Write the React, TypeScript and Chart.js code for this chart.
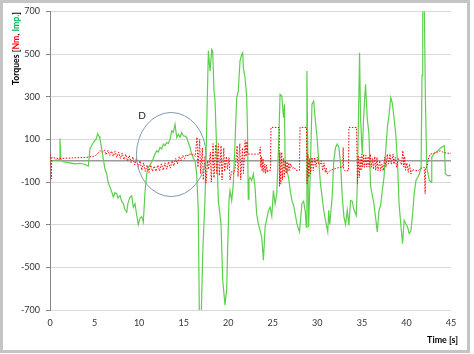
import React, { useEffect, useRef } from 'react';
import { Chart, registerables } from 'chart.js';

Chart.register(...registerables);

// ---- data (time in s, torque values) ----
const greenT = [
  0.05, 0.56, 1.07, 1.12, 1.23, 1.46, 2.24, 2.81, 3.37, 3.93, 4.30, 4.38, 4.49, 4.86, 5.16, 5.35, 5.50, 5.61, 5.78, 5.98,
  6.17, 6.36, 6.51, 6.73, 6.96, 7.10, 7.29, 7.49, 7.63, 7.86, 8.03, 8.23, 8.42, 8.61, 8.75, 8.98, 9.17, 9.35, 9.54, 9.71,
  9.91, 10.10, 10.29, 10.47, 10.66, 10.85, 11.03, 11.22, 11.41, 11.59, 11.78, 11.97, 12.15, 12.34, 12.53, 12.72, 12.90, 13.09, 13.28, 13.47,
  13.66, 13.84, 14.03, 14.22, 14.41, 14.59, 14.78, 14.96, 15.15, 15.34, 15.52, 15.71, 15.90, 16.10, 16.27, 16.46, 16.64, 16.76, 16.98, 17.15,
  17.39, 17.58, 17.77, 17.96, 18.15, 18.26, 18.40, 18.52, 18.71, 18.89, 19.19, 19.38, 19.64, 19.83, 19.94, 20.09, 20.20, 20.39, 20.57, 20.76,
  20.95, 21.13, 21.32, 21.51, 21.63, 21.70, 21.89, 22.07, 22.16, 22.25, 22.33, 22.44, 22.63, 22.82, 23.01, 23.19, 23.38, 23.76, 23.95, 24.14,
  24.52, 24.70, 24.89, 25.07, 25.26, 25.45, 25.63, 25.82, 26.01, 26.20, 26.31, 26.39, 26.58, 26.77, 26.96, 27.15, 27.34, 27.52, 27.71, 28.00,
  28.27, 28.46, 28.65, 28.76, 28.83, 29.02, 29.21, 29.40, 29.59, 29.78, 29.97, 30.16, 30.35, 30.54, 30.72, 30.91, 31.17, 31.28, 31.39, 31.66,
  31.85, 32.04, 32.23, 32.42, 32.61, 32.80, 32.99, 33.17, 33.36, 33.54, 33.73, 33.92, 34.10, 34.37, 34.48, 34.66, 34.74, 34.85, 35.04, 35.19,
  35.41, 35.60, 35.79, 35.98, 36.35, 36.73, 36.92, 37.10, 37.29, 37.48, 37.67, 37.86, 38.05, 38.24, 38.41, 38.61, 38.80, 38.99, 39.17, 39.37,
  39.56, 39.74, 39.93, 40.12, 40.31, 40.50, 40.69, 40.87, 41.07, 41.26, 41.45, 41.64, 41.75, 41.83, 42.01, 42.13, 42.28, 42.57, 42.76, 42.84,
  43.06, 43.51, 43.89, 44.26, 44.37, 44.64, 45.00,
];
const greenV = [
  0, 2, 5, 104, 3, -5, -10, -15, -12, -18, -25, 10, 56, 85, 100, 126, 115, 103, 60, 9,
  -40, -61, -100, -124, -150, -171, -150, -155, -175, -163, -190, -201, -230, -241, -200, -171, -165, -218, -202, -250,
  -300, -270, -262, -288, -150, -62, -31, -20, -8, 10, 31, 47, 40, 62, 55, 78, 70, 85, 80, 101,
  140, 132, 171, 109, 124, 110, 132, 117, 115, 109, 85, 62, 31, 10, 0, -62, -233, -720, -720, -420,
  -187, 150, 515, 420, 521, 513, 330, 280, 47, -187, -296, -560, -677, -600, -404, -187, -140, -187, -109, 78,
  295, 327, 467, 498, 506, 435, 389, 300, 150, -180, -90, -78, -93, -62, -124, -249, -296, -358, -467, -311,
  -233, -218, -260, -140, -203, -155, 47, 311, 303, 202, 265, -31, -46, -78, -140, -187, -210, -249, -296, -334,
  -200, -190, -240, -311, 420, -311, -50, 265, 280, 187, 109, 0, -109, -171, -233, -280, -334, -233, -300, -171,
  0, 62, 78, 62, -16, -171, -265, -300, -233, -303, -187, -190, -230, -257, -124, 300, 506, 200, 30, 200,
  358, 200, 125, -120, -202, -334, -233, -210, -140, -78, 47, 156, 218, 296, 270, 200, 125, 0, -200, -300,
  -389, -280, -296, -310, -342, -330, -250, -155, -93, -78, -62, -31, 400, 720, 720, 280, -31, -93, -101, 16,
  31, 47, 62, 70, -62, -70, -70,
];

const redT = [
  0, 0.1, 0.15, 0.2, 1.0, 2.0, 3.0, 4.0, 4.5, 5.0, 5.3, 5.6, 5.9, 6.1, 6.3, 6.5, 6.7, 6.9, 7.1, 7.3,
  7.5, 7.7, 7.9, 8.1, 8.3, 8.5, 8.7, 8.9, 9.1, 9.3, 9.5, 9.7, 9.9, 10.1, 10.3, 10.5, 10.7, 10.9, 11.1, 11.3,
  11.5, 11.7, 11.9, 12.1, 12.3, 12.5, 12.7, 12.9, 13.1, 13.3, 13.5, 13.7, 13.9, 14.1, 14.3, 14.5, 14.7, 14.9, 15.1, 15.3,
  15.5, 15.7, 15.9, 16.1, 16.3, 16.5, 16.6, 16.8, 16.9, 17.1, 17.2, 17.4, 17.5, 17.7, 17.8, 18.0, 18.1, 18.3, 18.4, 18.6,
  18.7, 18.9, 19.0, 19.2, 19.3, 19.5, 19.6, 19.8, 19.9, 20.1, 20.2, 20.4, 20.6, 20.8, 21.0, 21.1, 21.3, 21.4, 21.6, 21.7,
  21.9, 22.0, 22.1, 22.2, 22.5, 23.0, 23.3, 23.5, 23.6, 23.65, 23.75, 23.8, 23.9, 24.0, 24.1, 24.2, 24.3, 24.4, 24.5, 24.75,
  24.8, 25.73, 25.75, 25.8, 25.9, 26.0, 26.1, 26.2, 26.3, 26.4, 26.5, 26.6, 26.7, 26.8, 26.9, 27.0, 27.2, 27.4, 27.6, 27.8,
  28.0, 28.05, 28.8, 28.85, 28.95, 29.05, 29.15, 29.25, 29.4, 29.55, 29.7, 29.85, 30.0, 30.15, 30.3, 30.45, 30.6, 30.75, 30.9, 31.0,
  31.1, 31.4, 31.8, 32.2, 32.5, 32.85, 32.9, 32.95, 33.1, 33.5, 33.55, 34.4, 34.5, 34.6, 34.7, 34.8, 34.9, 35.0, 35.1, 35.2,
  35.3, 35.45, 35.55, 35.7, 35.8, 35.95, 36.05, 36.2, 36.3, 36.45, 36.55, 36.7, 36.8, 37.0, 37.1, 37.25, 37.4, 37.55, 37.7, 37.85,
  38.0, 38.15, 38.3, 38.5, 38.6, 38.75, 38.9, 39.1, 39.3, 39.45, 39.6, 39.7, 39.8, 39.9, 40.05, 40.2, 40.35, 40.5, 40.7, 40.9,
  41.3, 41.7, 42.0, 42.1, 42.15, 42.3, 42.5, 42.7, 43.1, 43.4, 43.8, 44.1, 44.5, 45.0,
];
const redV = [
  30, 20, -85, 15, 10, 12, 14, 15, 18, 22, 30, 47, 40, 50, 28, 48, 25, 45, 20, 44,
  16, 40, 10, 36, 5, 30, -2, 25, -10, 18, -20, 10, -30, 0, -45, -10, -50, -20, -55, -20,
  -50, -25, -50, -20, -48, -15, -45, -10, -40, -5, -35, 0, -25, 10, -15, 20, 0, 25, 10, 30,
  20, 35, 25, 30, 20, 110, -30, 100, -60, 60, -90, 20, -105, 0, -40, 40, -100, 80, -80, 75,
  -60, 80, -70, 70, -90, 60, -50, 20, -40, 15, -90, -50, -60, -30, 70, -75, 80, -90, 60, -60,
  95, 20, 90, 31, 31, 31, 31, 30, 65, -30, 20, -50, 10, -55, -15, -60, -20, -55, -45, -45,
  156, 156, -120, 40, -110, 40, -90, 10, -75, 0, -60, -5, -50, -10, -45, -15, -35, -30, -45, -45,
  -45, 156, 156, -107, 30, -78, 10, -62, 16, -47, 16, -30, 16, -16, -16, 0, -47, -10, -55, -35,
  -62, -47, -40, -35, -31, -31, 62, -40, -47, -47, 156, 156, -107, 20, -80, 16, -47, 30, -30, 31,
  -31, 25, -30, 20, -30, 31, -31, 10, -40, 20, -45, 16, -47, 0, -47, -16, -47, 16, -31, 31,
  -16, 31, -16, 31, -16, 16, -31, 10, 0, -20, 47, -30, 20, -45, -10, -55, -16, -62, -40, -47,
  -47, -35, -31, -155, -31, -31, 16, 31, 35, 39, 47, 40, 35, 35,
];

const xTicks = [0, 5, 10, 15, 20, 25, 30, 35, 40, 45];
const yTicks = [-700, -500, -300, -100, 100, 300, 500, 700];
const yMin = -700;
const yMax = 700;
const xMin = 0;
const xMax = 45;

const yTitleParts = [
  { text: 'Torques [', color: '#000000' },
  { text: 'Nm', color: '#ff0000' },
  { text: ', ', color: '#000000' },
  { text: 'Imp.', color: '#00b050' },
  { text: ']', color: '#000000' },
];
const xTitle = 'Time [s]';

// annotation ellipse "D" (data coordinates)
const annoLabel = 'D';
const annoCenterT = 13.6;
const annoCenterV = 29;
const annoRadiusT = 3.9;
const annoRadiusV = 197;
const annoLabelT = 10.33;
const annoLabelV = 210;

const FONT = 'Lato, "Open Sans", sans-serif';

const decorPlugin = {
  id: 'decor',
  beforeDatasetsDraw(chart: any) {
    const { ctx, chartArea, scales } = chart;
    const y0 = scales.y.getPixelForValue(0);
    ctx.save();
    ctx.strokeStyle = '#9a9a9a';
    ctx.lineWidth = 1.6;
    ctx.beginPath();
    ctx.moveTo(chartArea.left, y0);
    ctx.lineTo(chartArea.right, y0);
    ctx.stroke();
    ctx.restore();
  },
  afterDraw(chart: any) {
    const { ctx, scales } = chart;
    const xs = scales.x;
    const ys = scales.y;
    ctx.save();
    // ellipse annotation
    const cx = xs.getPixelForValue(annoCenterT);
    const cy = ys.getPixelForValue(annoCenterV);
    const rx = Math.abs(xs.getPixelForValue(annoCenterT + annoRadiusT) - cx);
    const ry = Math.abs(ys.getPixelForValue(annoCenterV + annoRadiusV) - cy);
    ctx.strokeStyle = '#8098b4';
    ctx.lineWidth = 1;
    ctx.beginPath();
    ctx.ellipse(cx, cy, rx, ry, 0, 0, Math.PI * 2);
    ctx.stroke();
    ctx.fillStyle = '#222';
    ctx.font = `10px ${FONT}`;
    ctx.textAlign = 'center';
    ctx.textBaseline = 'middle';
    ctx.fillText(annoLabel, xs.getPixelForValue(annoLabelT), ys.getPixelForValue(annoLabelV));

    // y title (multi-coloured)
    let size = 10;
    ctx.font = `bold ${size}px ${FONT}`;
    let total = yTitleParts.reduce((s, p) => s + ctx.measureText(p.text).width, 0);
    size = size * 73 / total;
    ctx.font = `bold ${size}px ${FONT}`;
    ctx.translate(16, 85);
    ctx.rotate(-Math.PI / 2);
    ctx.textAlign = 'left';
    ctx.textBaseline = 'middle';
    let xo = 0;
    for (const p of yTitleParts) {
      ctx.fillStyle = p.color;
      ctx.fillText(p.text, xo, 0);
      xo += ctx.measureText(p.text).width;
    }
    ctx.setTransform(1, 0, 0, 1, 0, 0);

    // x title
    let s2 = 10;
    ctx.font = `bold ${s2}px ${FONT}`;
    const w2 = ctx.measureText(xTitle).width;
    s2 = s2 * 31 / w2;
    ctx.font = `bold ${s2}px ${FONT}`;
    ctx.fillStyle = '#000';
    ctx.textAlign = 'right';
    ctx.textBaseline = 'middle';
    ctx.fillText(xTitle, 458, 340);

    // outer frame
    ctx.strokeStyle = '#c4c4c4';
    ctx.lineWidth = 3;
    ctx.strokeRect(1.5, 1.5, 467, 350);
    ctx.restore();
  },
};

export default function App() {
  const ref = useRef<HTMLCanvasElement>(null);
  useEffect(() => {
    document.body.style.margin = '0';
    const green = greenT.map((t, i) => ({ x: t, y: greenV[i] }));
    const red = redT.map((t, i) => ({ x: t, y: redV[i] }));
    const chart = new Chart(ref.current as HTMLCanvasElement, {
      type: 'line',
      data: {
        datasets: [
          {
            label: 'Nm',
            data: red,
            borderColor: '#ff0000',
            borderWidth: 1,
            borderDash: [1.5, 1.5],
            pointRadius: 0,
            tension: 0,
            order: 0,
          },
          {
            label: 'Imp.',
            data: green,
            borderColor: '#5ccf4c',
            borderWidth: 1.2,
            pointRadius: 0,
            tension: 0,
            order: 1,
          },
        ],
      },
      options: {
        animation: false,
        responsive: false,
        maintainAspectRatio: false,
        layout: { padding: { left: 0, right: 23, top: 10, bottom: 10 } },
        plugins: { legend: { display: false }, tooltip: { enabled: false } },
        scales: {
          x: {
            type: 'linear',
            min: xMin,
            max: xMax,
            afterBuildTicks: (s: any) => { s.ticks = xTicks.map((v) => ({ value: v })); },
            afterFit: (s: any) => { s.height = 34; },
            grid: { display: false, drawTicks: false },
            border: { display: false },
            ticks: { autoSkip: false, maxRotation: 0, padding: 8, color: '#333', font: { family: FONT, size: 9 } },
          },
          y: {
            type: 'linear',
            min: yMin,
            max: yMax,
            afterBuildTicks: (s: any) => { s.ticks = yTicks.map((v) => ({ value: v })); },
            afterFit: (s: any) => { s.width = 50; },
            grid: { color: '#d9d9d9', tickColor: '#868686', tickLength: 4, lineWidth: 1 },
            border: { display: true, color: '#868686', width: 1 },
            ticks: { autoSkip: false, padding: 6, color: '#333', font: { family: FONT, size: 9 } },
          },
        },
      },
      plugins: [decorPlugin],
    });
    return () => chart.destroy();
  }, []);
  return (
    <div style={{ width: 474, height: 354, background: '#fff' }}>
      <canvas ref={ref} width={474} height={354} style={{ display: 'block', width: 474, height: 354 }} />
    </div>
  );
}
